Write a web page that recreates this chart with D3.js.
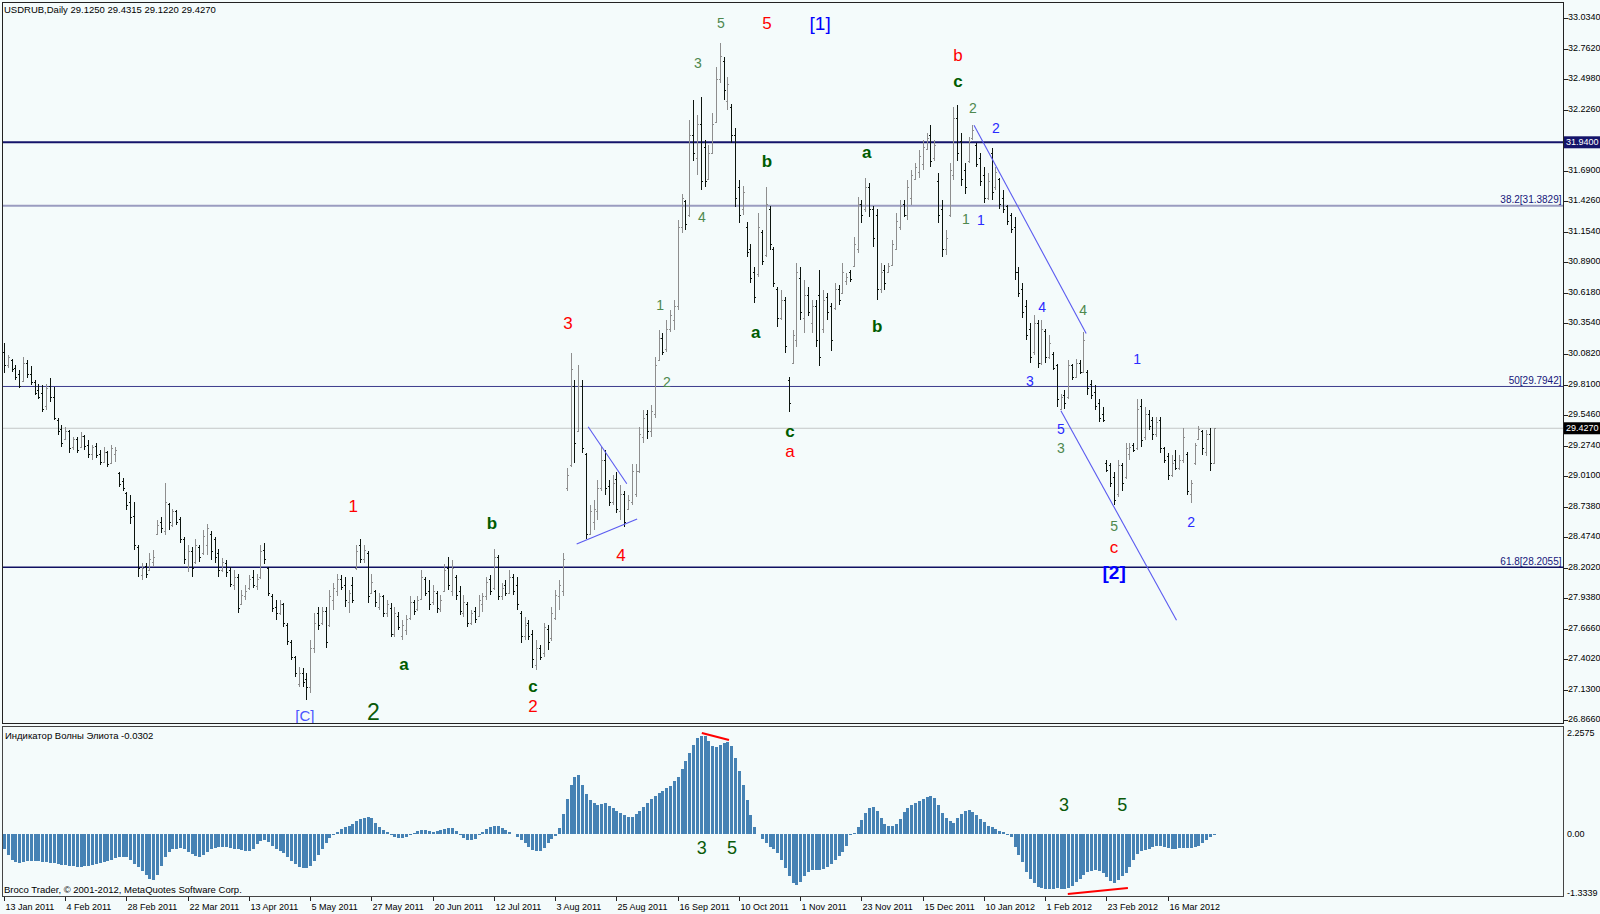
<!DOCTYPE html>
<html><head><meta charset="utf-8">
<script src="https://cdn.jsdelivr.net/npm/d3@7"></script>
<style>
body{margin:0;background:#f4fbfb}
svg{display:block}
text{font-family:"Liberation Sans",Arial,sans-serif}
</style>
</head><body>
<svg id="c" width="1600" height="914"></svg>
<script>
// ---------------- DATA ----------------
const symbolTitle = "USDRUB,Daily  29.1250 29.4315 29.1220 29.4270";
const indicatorTitle = "Индикатор Волны Элиота -0.0302";
const copyright = "Broco Trader, © 2001-2012, MetaQuotes Software Corp.";

const dateLabels = ["13 Jan 2011","4 Feb 2011","28 Feb 2011","22 Mar 2011","13 Apr 2011","5 May 2011","27 May 2011","20 Jun 2011","12 Jul 2011","3 Aug 2011","25 Aug 2011","16 Sep 2011","10 Oct 2011","1 Nov 2011","23 Nov 2011","15 Dec 2011","10 Jan 2012","1 Feb 2012","23 Feb 2012","16 Mar 2012"];
const dateLabelBars = [0,16,32,48,64,80,96,112,128,144,160,176,192,208,224,240,256,272,288,304];

const priceTicks = ["33.0340","32.7620","32.4980","32.2260","31.6900","31.4260","31.1540","30.8900","30.6180","30.3540","30.0820","29.8100","29.5460","29.2740","29.0100","28.7380","28.4740","28.2020","27.9380","27.6660","27.4020","27.1300","26.8660"];
const indTicks = ["2.2575","0.00","-1.3339"];

const opens = [
30.10,29.98,30.03,29.96,29.90,29.84,30.00,29.90,29.83,29.76,
29.74,29.62,29.80,29.70,29.50,29.42,29.33,29.40,29.26,29.33,
29.26,29.36,29.28,29.20,29.27,29.20,29.13,29.22,29.12,29.20,
29.03,28.96,28.86,28.78,28.66,28.38,28.14,28.22,28.18,28.25,
28.50,28.60,28.52,28.76,28.58,28.70,28.63,28.45,28.22,28.35,
28.25,28.38,28.33,28.40,28.50,28.45,28.33,28.18,28.24,28.18,
28.05,28.12,27.88,27.95,28.02,28.12,28.04,28.12,28.36,28.20,
27.95,27.86,27.80,27.88,27.70,27.55,27.42,27.18,27.28,27.22,
27.15,27.50,27.80,27.72,27.82,27.70,27.92,28.00,28.10,28.05,
27.90,28.05,28.20,28.40,28.28,28.33,27.98,28.00,27.86,27.95,
27.80,27.85,27.62,27.78,27.60,27.65,27.76,27.90,27.84,27.93,
28.10,28.00,27.90,27.98,27.84,28.00,28.20,28.00,28.12,28.00,
27.80,27.88,27.72,27.82,27.78,27.88,27.95,28.10,28.02,28.30,
27.95,28.05,27.98,28.12,28.05,27.80,27.60,27.72,27.62,27.35,
27.50,27.45,27.66,27.58,27.76,27.95,28.00,28.90,29.10,29.80,
29.40,29.80,29.20,28.50,28.60,28.70,28.90,29.15,28.92,28.78,
28.98,28.70,28.85,28.72,28.78,28.85,29.05,29.35,29.55,29.40,
29.55,30.03,30.22,30.12,30.30,30.38,30.50,31.20,31.42,31.30,
32.00,31.80,32.10,31.90,31.62,31.85,32.12,32.50,32.65,32.30,
32.25,32.00,31.55,31.35,31.20,31.00,30.80,30.78,31.15,30.95,
31.35,31.00,30.65,30.40,30.55,29.85,30.00,30.20,30.75,30.40,
30.60,30.35,30.50,30.60,30.30,30.58,30.50,30.48,30.65,30.62,
30.72,30.80,30.85,31.00,31.40,31.35,31.55,31.35,31.30,30.65,
30.82,30.80,30.86,31.00,31.20,31.40,31.30,31.45,31.62,31.68,
31.75,31.88,32.00,31.80,31.60,31.35,31.00,31.30,31.65,32.15,
31.95,31.70,31.78,31.98,31.92,31.80,31.65,31.45,31.85,31.55,
31.62,31.45,31.38,31.30,31.20,30.80,30.65,30.50,30.30,30.10,
30.35,30.00,30.28,30.05,30.08,29.98,29.60,29.72,29.70,29.98,
29.88,30.00,29.92,29.92,29.82,29.75,29.65,29.55,29.12,29.10,
29.00,28.85,29.10,29.00,29.20,29.28,29.25,29.62,29.35,29.55,
29.50,29.38,29.50,29.25,29.18,29.02,29.15,29.08,29.15,29.20,
28.85,29.12,29.33,29.40,29.22,29.38,29.125];

const highs = [
30.18,30.07,30.04,29.98,29.94,30.05,30.03,29.97,29.85,29.82,
29.81,29.82,29.87,29.79,29.52,29.46,29.44,29.41,29.35,29.35,
29.39,29.37,29.32,29.28,29.30,29.24,29.26,29.23,29.28,29.26,
29.04,28.99,28.87,28.84,28.78,28.40,28.24,28.24,28.33,28.36,
28.62,28.65,28.95,28.77,28.72,28.71,28.65,28.47,28.40,28.38,
28.45,28.40,28.53,28.59,28.52,28.47,28.37,28.29,28.27,28.21,
28.18,28.15,28.01,28.05,28.14,28.18,28.15,28.40,28.42,28.21,
27.97,27.92,27.92,27.89,27.72,27.57,27.43,27.33,27.32,27.28,
27.57,27.80,27.86,27.86,27.86,28.01,28.07,28.15,28.14,28.12,
28.01,28.12,28.40,28.45,28.40,28.35,28.15,28.01,27.98,27.96,
27.92,27.89,27.86,27.81,27.74,27.79,27.95,27.92,27.95,28.18,
28.12,28.09,28.05,28.00,27.96,28.23,28.30,28.27,28.14,28.04,
27.96,27.90,27.83,27.86,27.96,27.98,28.12,28.14,28.37,28.31,
28.07,28.09,28.18,28.15,28.12,27.82,27.77,27.74,27.65,27.57,
27.52,27.72,27.70,27.86,28.01,28.09,28.33,29.08,30.09,29.85,
29.98,29.85,29.21,28.75,28.80,28.97,29.26,29.24,28.97,29.02,
29.04,28.93,28.88,28.84,29.11,29.11,29.44,29.59,29.59,29.63,
30.05,30.29,30.26,30.38,30.47,30.55,31.26,31.49,31.43,32.14,
32.31,32.18,32.34,31.96,31.92,32.20,32.60,32.81,32.69,32.51,
32.28,32.07,31.61,31.56,31.24,31.05,30.84,31.32,31.17,31.55,
31.38,31.02,30.67,30.64,30.58,29.88,30.29,30.88,30.84,30.73,
30.67,30.55,30.55,30.82,30.64,30.62,30.53,30.70,30.69,30.88,
30.79,30.82,31.11,31.46,31.43,31.63,31.58,31.38,31.35,30.88,
30.86,30.88,31.08,31.32,31.43,31.43,31.61,31.70,31.76,31.87,
31.96,32.02,32.09,31.96,31.67,31.43,31.17,31.76,32.25,32.27,
32.02,31.76,31.99,32.09,31.93,31.85,31.72,31.67,31.89,31.72,
31.63,31.52,31.39,31.32,31.28,30.84,30.70,30.55,30.35,30.42,
30.38,30.38,30.30,30.25,30.10,29.99,29.73,29.76,30.03,29.99,
30.04,30.03,30.27,29.94,29.85,29.81,29.68,29.61,29.15,29.12,
29.04,29.15,29.12,29.30,29.30,29.30,29.68,29.68,29.61,29.59,
29.53,29.53,29.53,29.26,29.21,29.19,29.24,29.19,29.43,29.22,
28.97,29.30,29.45,29.41,29.41,29.43,29.4315];

const lows = [
29.91,29.96,29.92,29.85,29.78,29.83,29.87,29.81,29.72,29.68,
29.57,29.59,29.66,29.50,29.37,29.26,29.32,29.21,29.24,29.21,
29.26,29.24,29.17,29.15,29.17,29.10,29.12,29.09,29.12,29.13,
28.91,28.88,28.71,28.59,28.36,28.12,28.09,28.11,28.17,28.21,
28.49,28.51,28.49,28.53,28.56,28.58,28.42,28.23,28.16,28.12,
28.23,28.25,28.31,28.31,28.27,28.24,28.12,28.16,28.12,28.03,
28.01,27.80,27.87,27.92,28.01,28.02,28.01,28.10,28.23,27.95,
27.81,27.74,27.79,27.68,27.52,27.39,27.24,27.15,27.15,27.04,
27.10,27.45,27.65,27.70,27.50,27.68,27.83,27.95,28.01,27.86,
27.80,27.89,28.18,28.24,28.24,27.89,27.97,27.86,27.83,27.77,
27.77,27.59,27.59,27.65,27.57,27.61,27.74,27.79,27.82,27.92,
27.95,27.83,27.87,27.80,27.81,27.99,28.01,27.95,27.92,27.79,
27.77,27.68,27.70,27.72,27.77,27.81,27.92,27.96,28.01,27.92,
27.92,27.95,27.97,27.96,27.83,27.54,27.57,27.57,27.32,27.30,
27.39,27.42,27.48,27.56,27.74,27.83,27.95,28.88,29.09,29.12,
29.39,29.21,28.45,28.49,28.53,28.62,28.88,28.84,28.74,28.75,
28.68,28.62,28.56,28.71,28.75,28.82,29.03,29.30,29.33,29.35,
29.52,30.02,30.07,30.10,30.27,30.29,30.47,31.14,31.17,31.28,
31.78,31.65,31.52,31.55,31.61,31.84,32.11,32.46,32.31,32.22,
31.93,31.37,31.23,31.30,30.93,30.70,30.53,30.76,30.86,30.93,
30.99,30.67,30.32,30.38,30.09,29.57,29.99,30.14,30.38,30.26,
30.41,30.26,30.14,29.97,30.26,30.38,30.11,30.47,30.51,30.61,
30.69,30.71,30.84,30.97,31.23,31.33,31.28,31.02,30.55,30.62,
30.64,30.79,30.85,30.99,31.17,31.28,31.26,31.39,31.61,31.63,
31.70,31.87,31.72,31.78,31.23,30.93,30.95,31.28,31.61,31.78,
31.56,31.49,31.76,31.96,31.72,31.56,31.41,31.43,31.43,31.52,
31.35,31.32,31.21,31.14,30.73,30.58,30.40,30.20,30.00,30.07,
29.96,29.98,30.00,30.04,29.94,29.61,29.59,29.60,29.68,29.85,
29.87,29.90,29.91,29.72,29.68,29.59,29.48,29.48,29.04,28.91,
28.75,28.82,28.88,28.98,29.15,29.22,29.24,29.26,29.32,29.41,
29.32,29.35,29.21,29.12,28.97,29.00,29.06,29.06,29.12,28.84,
28.77,29.10,29.32,29.19,29.18,29.05,29.122];

const closes = [
29.98,30.05,29.95,29.88,29.80,30.00,29.90,29.83,29.74,29.70,
29.60,29.78,29.70,29.52,29.40,29.30,29.40,29.25,29.33,29.24,
29.36,29.27,29.20,29.26,29.19,29.13,29.22,29.11,29.25,29.24,
28.94,28.90,28.75,28.65,28.40,28.20,28.20,28.15,28.28,28.30,
28.58,28.55,28.78,28.60,28.70,28.60,28.45,28.28,28.35,28.20,
28.40,28.30,28.48,28.55,28.35,28.30,28.18,28.25,28.16,28.06,
28.12,27.85,27.96,28.00,28.10,28.05,28.10,28.35,28.28,27.98,
27.85,27.80,27.88,27.72,27.56,27.42,27.28,27.28,27.20,27.15,
27.50,27.72,27.70,27.82,27.55,27.95,28.02,28.10,28.03,27.92,
27.98,27.92,28.35,28.28,28.36,27.95,28.08,27.90,27.95,27.80,
27.88,27.62,27.80,27.68,27.70,27.75,27.90,27.82,27.92,28.12,
27.98,27.88,28.00,27.85,27.92,28.18,28.05,28.20,27.96,27.82,
27.90,27.72,27.80,27.75,27.92,27.95,28.08,28.00,28.30,27.95,
28.02,27.98,28.12,28.00,27.88,27.60,27.70,27.60,27.40,27.50,
27.42,27.68,27.55,27.80,27.96,28.05,28.28,29.02,29.95,29.30,
29.80,29.25,28.50,28.70,28.72,28.90,29.15,28.90,28.78,28.95,
28.72,28.85,28.60,28.80,29.05,29.05,29.38,29.52,29.40,29.58,
29.98,30.22,30.10,30.30,30.42,30.50,31.20,31.45,31.22,32.00,
31.85,32.10,31.60,31.60,31.85,32.10,32.50,32.70,32.40,32.45,
32.00,31.45,31.30,31.50,30.98,30.75,30.58,31.20,30.90,31.40,
31.05,30.70,30.40,30.55,30.15,29.65,30.25,30.80,30.45,30.60,
30.45,30.50,30.20,30.05,30.55,30.45,30.20,30.65,30.55,30.80,
30.76,30.74,31.05,31.40,31.30,31.55,31.35,31.10,30.65,30.80,
30.70,30.85,31.05,31.25,31.38,31.30,31.55,31.65,31.72,31.82,
31.90,31.98,31.78,31.92,31.30,31.00,31.10,31.70,32.15,31.85,
31.62,31.55,31.95,32.05,31.75,31.60,31.45,31.60,31.50,31.68,
31.40,31.35,31.25,31.18,30.80,30.62,30.45,30.25,30.05,30.35,
30.00,30.30,30.05,30.18,29.96,29.68,29.70,29.65,29.98,29.88,
30.00,29.92,30.20,29.78,29.72,29.62,29.52,29.50,29.06,28.95,
28.80,29.10,28.95,29.25,29.26,29.24,29.60,29.32,29.55,29.45,
29.38,29.48,29.25,29.15,29.02,29.12,29.08,29.15,29.35,28.88,
28.95,29.28,29.42,29.25,29.38,29.12,29.427];

const ewo = [
-0.33,-0.45,-0.55,-0.60,-0.62,-0.60,-0.58,-0.58,-0.57,-0.58,
-0.59,-0.60,-0.61,-0.62,-0.64,-0.66,-0.67,-0.68,-0.69,-0.70,
-0.70,-0.69,-0.68,-0.66,-0.63,-0.61,-0.59,-0.57,-0.55,-0.52,
-0.50,-0.48,-0.50,-0.56,-0.63,-0.70,-0.78,-0.88,-0.95,-0.97,
-0.88,-0.69,-0.50,-0.38,-0.33,-0.31,-0.30,-0.32,-0.38,-0.43,
-0.47,-0.48,-0.45,-0.38,-0.32,-0.29,-0.27,-0.27,-0.28,-0.30,
-0.31,-0.33,-0.35,-0.37,-0.37,-0.33,-0.22,-0.15,-0.13,-0.18,
-0.26,-0.31,-0.36,-0.41,-0.48,-0.58,-0.64,-0.70,-0.72,-0.72,
-0.69,-0.58,-0.44,-0.32,-0.20,-0.08,-0.02,0.05,0.10,0.14,
0.18,0.22,0.27,0.32,0.35,0.37,0.33,0.24,0.15,0.08,
0.04,-0.02,-0.06,-0.09,-0.09,-0.06,-0.03,0.02,0.06,0.08,
0.08,0.07,0.05,0.06,0.08,0.10,0.12,0.12,0.07,-0.02,
-0.09,-0.12,-0.13,-0.10,-0.03,0.05,0.10,0.14,0.16,0.16,
0.12,0.08,0.04,-0.01,-0.06,-0.12,-0.20,-0.28,-0.35,-0.37,
-0.37,-0.30,-0.20,-0.10,-0.04,0.12,0.43,0.75,1.04,1.22,
1.25,1.04,0.85,0.73,0.65,0.62,0.64,0.65,0.60,0.55,
0.50,0.45,0.40,0.37,0.37,0.42,0.50,0.58,0.66,0.74,
0.81,0.87,0.92,0.97,1.03,1.12,1.22,1.38,1.55,1.72,
1.90,2.05,2.09,2.08,1.98,1.88,1.86,1.90,1.93,1.95,
1.88,1.62,1.35,1.04,0.72,0.40,0.15,0.01,-0.10,-0.20,
-0.27,-0.33,-0.41,-0.55,-0.72,-0.90,-1.04,-1.08,-1.02,-0.90,
-0.80,-0.77,-0.76,-0.76,-0.74,-0.70,-0.64,-0.56,-0.47,-0.38,
-0.25,-0.03,0.02,0.15,0.29,0.45,0.55,0.58,0.50,0.34,
0.22,0.18,0.17,0.22,0.32,0.46,0.55,0.62,0.66,0.70,
0.74,0.78,0.80,0.76,0.62,0.44,0.33,0.28,0.24,0.35,
0.43,0.48,0.51,0.46,0.40,0.32,0.25,0.18,0.14,0.10,
0.07,0.04,-0.02,-0.06,-0.28,-0.45,-0.60,-0.80,-0.95,-1.05,
-1.12,-1.15,-1.17,-1.18,-1.18,-1.16,-1.17,-1.18,-1.15,-1.10,
-1.02,-0.95,-0.88,-0.82,-0.78,-0.77,-0.79,-0.84,-0.92,-1.00,
-1.04,-0.97,-0.90,-0.83,-0.70,-0.55,-0.42,-0.37,-0.34,-0.32,
-0.28,-0.25,-0.25,-0.27,-0.30,-0.31,-0.31,-0.30,-0.29,-0.30,
-0.30,-0.28,-0.25,-0.20,-0.13,-0.07,-0.03];

// horizontal levels
const levelPrices = [31.94, 31.3829, 29.7942, 28.2055, 29.427];
const levelKinds  = ["hl","fib382","fib50","fib618","bid"];
const levelTexts  = ["", "38.2[31.3829]", "50[29.7942]", "61.8[28.2055]", ""];

// trend lines in (bar index, price)
const trendLines = [
  [[152.6,29.44],[162.7,28.94]],
  [[149.6,28.41],[165.4,28.63]],
  [[253.4,32.09],[282.7,30.26]],
  [[276.1,29.58],[306.3,27.74]]
];
// indicator divergence lines (bar index, value)
const divLines = [
  [[182.3,2.15],[189.4,2.00]],
  [[277.9,-1.28],[293.6,-1.15]]
];

// wave labels: text, bar index, price, kind
const waveText  = ["5","5","[1]","3","4","b","a","a","b","1","2","3","c","a","b","4","a","c","2","1","[C]","2","b","c","2","2","1","1","4","4","1","3","5","3","5","c","[2]","2"];
const waveBar   = [187.3,199.3,213.2,181.3,182.3,199.3,225.4,196.4,228.1,171.4,173.2,147.3,205.3,205.3,127.5,161.2,104.5,138.2,138.2,91.2,78.6,96.5,249.2,249.2,253.1,259.1,251.3,255.2,271.2,281.9,296.0,268.0,276.1,276.1,290.0,290.0,290.0,310.1];
const wavePrice = [32.99,32.98,32.98,32.64,31.28,31.77,31.85,30.27,30.32,30.51,29.83,30.35,29.40,29.22,28.59,28.31,27.35,27.16,26.98,28.74,26.90,26.93,32.70,32.47,32.24,32.07,31.27,31.26,30.49,30.47,30.04,29.84,29.42,29.25,28.57,28.38,28.16,28.60];
const waveKind  = ["minor","red","blueBig","minor","minor","dg","dg","dg","dg","minor","minor","red","dg","red","dg","red","dg","dg","red","red","blueC","big","red","dg","minor","blue","minor","blue","blue","minor","blue","blue","blue","minor","minor","red","blueBold","blue"];

const indText  = ["3","5","3","5"];
const indBar   = [182.3,190.2,276.9,292.1];
const indValue = [-0.30,-0.30,0.62,0.62];

// ---------------- DRAWING ----------------
const svg = d3.select("#c");
const L = 2.5, R = 1563.5, T = 2.5, MB = 723.5, IT = 726.5, IB = 896.5;

const x  = d3.scaleLinear().domain([0, 316]).range([4, 4 + 316*3.828]);
const y  = d3.scaleLinear().domain([26.866, 33.034]).range([719.7, 17.8]);
const yi = d3.scaleLinear().domain([-1.3339, 2.2575]).range([896.6, 728]);

svg.append("rect").attr("width",1600).attr("height",914).attr("fill","#f4fbfb");

const defs = svg.append("defs");
defs.append("clipPath").attr("id","mc").append("rect").attr("x",L).attr("y",T).attr("width",R-L).attr("height",MB-T);
defs.append("clipPath").attr("id","ic").append("rect").attr("x",L).attr("y",IT).attr("width",R-L).attr("height",IB-IT);

const main = svg.append("g").attr("clip-path","url(#mc)");
const ind  = svg.append("g").attr("clip-path","url(#ic)");

// levels
const levelStyle = {
  hl:{c:"#14146a",w:2},
  fib382:{c:"#9a9cc0",w:2},
  fib50:{c:"#3c3c8c",w:1},
  fib618:{c:"#101062",w:1.4},
  bid:{c:"#c4c8c8",w:1}
};
levelPrices.forEach((p,k)=>{
  const s = levelStyle[levelKinds[k]];
  main.append("line").attr("x1",L).attr("x2",R).attr("y1",y(p)).attr("y2",y(p))
    .attr("stroke",s.c).attr("stroke-width",s.w);
  if(levelTexts[k]) {
    main.append("text").attr("x",R-2).attr("y",y(p)-2.5).attr("text-anchor","end")
      .attr("font-size","10px").attr("fill","#16167a").text(levelTexts[k]);
  }
});

// price bars
const bars = main.append("g").attr("shape-rendering","crispEdges");
opens.forEach((o,i)=>{
  const c = closes[i] >= o ? "#8e8e8e" : "#0c140e";
  const xx = Math.round(x(i)) + 0.5;
  bars.append("line").attr("x1",xx).attr("x2",xx).attr("y1",y(highs[i])).attr("y2",y(lows[i])).attr("stroke",c);
  bars.append("line").attr("x1",xx-1.5).attr("x2",xx).attr("y1",Math.round(y(o))+0.5).attr("y2",Math.round(y(o))+0.5).attr("stroke",c);
  bars.append("line").attr("x1",xx).attr("x2",xx+1.5).attr("y1",Math.round(y(closes[i]))+0.5).attr("y2",Math.round(y(closes[i]))+0.5).attr("stroke",c);
});

// trend lines
trendLines.forEach(tl=>{
  main.append("line").attr("x1",x(tl[0][0])).attr("y1",y(tl[0][1])).attr("x2",x(tl[1][0])).attr("y2",y(tl[1][1]))
    .attr("stroke","#5a5af0").attr("stroke-width",1.1);
});

// wave labels
const waveStyle = {
  minor:{c:"#4e884e",s:14,w:"normal"},
  red:{c:"#ff0000",s:17,w:"normal"},
  dg:{c:"#005c00",s:17,w:"bold"},
  big:{c:"#0a5a0a",s:23,w:"normal"},
  blue:{c:"#2a2aff",s:14,w:"normal"},
  blueBig:{c:"#0000ff",s:19,w:"normal"},
  blueBold:{c:"#0000ff",s:19,w:"bold"},
  blueC:{c:"#4a55ff",s:15,w:"normal"}
};
waveText.forEach((t,k)=>{
  const s = waveStyle[waveKind[k]];
  main.append("text").attr("x",x(waveBar[k])).attr("y",y(wavePrice[k]))
    .attr("text-anchor","middle").attr("dominant-baseline","central")
    .attr("font-size",s.s+"px").attr("font-weight",s.w).attr("fill",s.c).text(t);
});

// header
svg.append("text").attr("x",4).attr("y",13).attr("font-size","9.5px").attr("fill","#000").text(symbolTitle);

// indicator histogram
const hg = ind.append("g").attr("shape-rendering","crispEdges");
ewo.forEach((v,i)=>{
  const xx = Math.round(x(i));
  hg.append("rect").attr("x",xx-1).attr("width",2.6)
    .attr("y",Math.min(yi(v),yi(0))).attr("height",Math.abs(yi(v)-yi(0)))
    .attr("fill","#4682b4");
});
divLines.forEach(dl=>{
  ind.append("line").attr("x1",x(dl[0][0])).attr("y1",yi(dl[0][1])).attr("x2",x(dl[1][0])).attr("y2",yi(dl[1][1]))
    .attr("stroke","#ff0000").attr("stroke-width",2);
});
indText.forEach((t,k)=>{
  ind.append("text").attr("x",x(indBar[k])).attr("y",yi(indValue[k]))
    .attr("text-anchor","middle").attr("dominant-baseline","central")
    .attr("font-size","18px").attr("fill","#0a5a0a").text(t);
});
svg.append("text").attr("x",5).attr("y",739).attr("font-size","9.5px").attr("fill","#000").text(indicatorTitle);
svg.append("text").attr("x",4).attr("y",893).attr("font-size","9.5px").attr("fill","#000").text(copyright);

// frames
const fr = svg.append("g").attr("fill","none").attr("shape-rendering","crispEdges");
fr.append("rect").attr("x",L).attr("y",T).attr("width",R-L).attr("height",MB-T).attr("stroke","#222");
fr.append("rect").attr("x",L).attr("y",IT).attr("width",R-L).attr("height",IB-IT).attr("stroke","#444");

// right price axis
const ax = svg.append("g");
priceTicks.forEach(t=>{
  const yy = y(+t);
  ax.append("line").attr("x1",R).attr("x2",R+4).attr("y1",Math.round(yy)+0.5).attr("y2",Math.round(yy)+0.5).attr("stroke","#222").attr("shape-rendering","crispEdges");
  ax.append("text").attr("x",1568).attr("y",yy-1).attr("dominant-baseline","central").attr("font-size","9px").attr("fill","#000").text(t);
});
// boxed level labels
[[31.94,"#14146a"],[29.427,"#000000"]].forEach(b=>{
  const yy = y(b[0]);
  ax.append("rect").attr("x",R+0.5).attr("y",yy-6).attr("width",36).attr("height",12).attr("fill",b[1]);
  ax.append("text").attr("x",1566).attr("y",yy).attr("dominant-baseline","central").attr("font-size","9px").attr("fill","#fff").text(b[0].toFixed(4));
});
// indicator axis
const indTickY = [yi(2.2575)+5, yi(0), yi(-1.3339)-4];
indTicks.forEach((t,k)=>{
  ax.append("text").attr("x",1567).attr("y",indTickY[k]).attr("dominant-baseline","central").attr("font-size","9px").attr("fill","#000").text(t);
});

// date axis
dateLabels.forEach((t,k)=>{
  const xx = Math.round(x(dateLabelBars[k])) + 0.5;
  ax.append("line").attr("x1",xx).attr("x2",xx).attr("y1",IB).attr("y2",IB+4).attr("stroke","#222").attr("shape-rendering","crispEdges");
  ax.append("text").attr("x",xx+1).attr("y",910).attr("font-size","9px").attr("fill","#000").text(t);
});
</script>
</body></html>
